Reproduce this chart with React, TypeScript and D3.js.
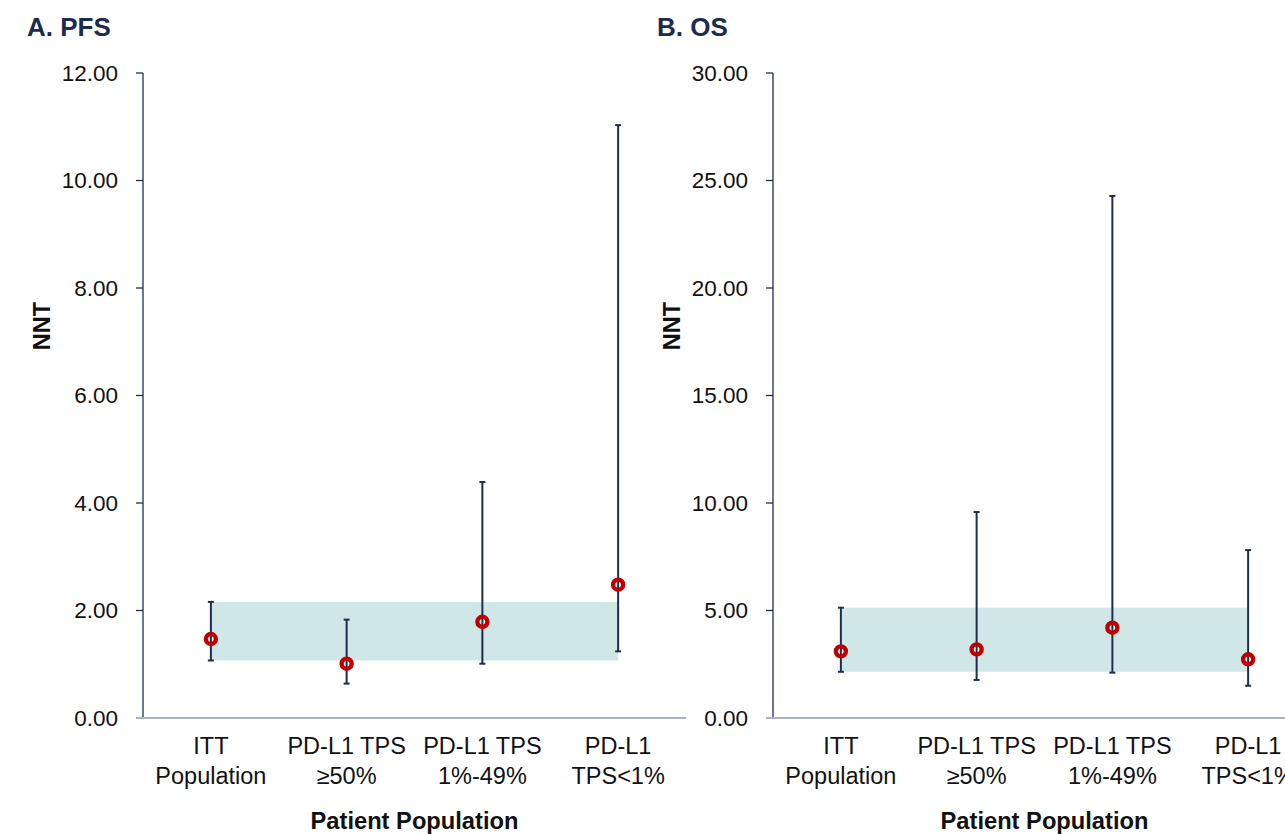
import React from "react";
import * as d3 from "d3";

const categoriesTop = ["ITT", "PD-L1 TPS", "PD-L1 TPS", "PD-L1"];
const categoriesBottom = ["Population", "≥50%", "1%-49%", "TPS<1%"];

const pfsPoint = [1.47, 1.01, 1.79, 2.48];
const pfsLower = [1.07, 0.64, 1.01, 1.24];
const pfsUpper = [2.16, 1.83, 4.39, 11.03];
const pfsTicks = [0, 2, 4, 6, 8, 10, 12];

const osPoint = [3.1, 3.19, 4.2, 2.73];
const osLower = [2.15, 1.77, 2.11, 1.5];
const osUpper = [5.13, 9.58, 24.28, 7.81];
const osTicks = [0, 5, 10, 15, 20, 25, 30];

const navy = "#1f2d4d";
const red = "#c00000";
const band = "#d0e7e8";
const font = "Liberation Sans, Arial, sans-serif";

const width = 1285;
const height = 834;
const top = 73;
const bottom = 718;
const plotWidth = 543;

const Panel = (props) => {
	const { title, axisX, ticks, point, lower, upper } = props;
	const ids = d3.range(point.length).map(String);
	const x = d3.scaleBand().domain(ids).range([axisX, axisX + plotWidth]);
	const y = d3
		.scaleLinear()
		.domain([0, ticks[ticks.length - 1]])
		.range([bottom, top]);
	const cx = (i) => x(String(i)) + x.bandwidth() / 2;
	const line = (a, b) => d3.line()([a, b]);
	const cap = 3;

	return (
		<g>
			<text
				x={axisX - 116}
				y={36}
				fontFamily={font}
				fontWeight="bold"
				fontSize={26}
				fill="#1c2c4c"
			>
				{title}
			</text>
			{/* ITT confidence band */}
			<rect
				x={cx(0)}
				y={y(upper[0])}
				width={cx(point.length - 1) - cx(0)}
				height={y(lower[0]) - y(upper[0])}
				fill={band}
			/>
			{/* y axis */}
			<path d={line([axisX, top], [axisX, bottom])} stroke={navy} strokeWidth={1.3} />
			{ticks.map((t) => (
				<g key={t}>
					<path d={line([axisX - 7, y(t)], [axisX, y(t)])} stroke={t === 0 ? "#a9b3c1" : navy} strokeWidth={1.3} />
					<text
						x={axisX - 25}
						y={y(t)}
						textAnchor="end"
						dominantBaseline="central"
						fontFamily={font}
						fontSize={22.5}
						fill="#111"
					>
						{t.toFixed(2)}
					</text>
				</g>
			))}
			<path d={line([axisX - 7, bottom], [axisX + plotWidth, bottom])} stroke="#a9b3c1" strokeWidth={2} />
			<text
				transform={`translate(${axisX - 101},${326}) rotate(-90)`}
				textAnchor="middle"
				dominantBaseline="central"
				fontFamily={font}
				fontWeight="bold"
				fontSize={23.5}
				fill="#111"
			>
				NNT
			</text>
			{point.map((p, i) => (
				<g key={i}>
					<text x={cx(i)} y={754} textAnchor="middle" fontFamily={font} fontSize={23.5} fill="#111">
						{categoriesTop[i]}
					</text>
					<text x={cx(i)} y={784} textAnchor="middle" fontFamily={font} fontSize={23.5} fill="#111">
						{categoriesBottom[i]}
					</text>
					<circle cx={cx(i)} cy={y(p)} r={3} fill="white" />
					<path d={line([cx(i), y(upper[i])], [cx(i), y(lower[i])])} stroke={navy} strokeWidth={2} />
					<path d={line([cx(i) - cap, y(upper[i])], [cx(i) + cap, y(upper[i])])} stroke={navy} strokeWidth={2} />
					<path d={line([cx(i) - cap, y(lower[i])], [cx(i) + cap, y(lower[i])])} stroke={navy} strokeWidth={2} />
					<circle cx={cx(i)} cy={y(p)} r={5} fill="none" stroke={red} strokeWidth={4.4} />
				</g>
			))}
			<text
				x={axisX + plotWidth / 2}
				y={829}
				textAnchor="middle"
				fontFamily={font}
				fontWeight="bold"
				fontSize={23.7}
				fill="#111"
			>
				Patient Population
			</text>
		</g>
	);
};

const App = () => {
	return (
		<svg
			width={width}
			height={height}
			style={{ position: "absolute", left: 0, top: 0, background: "white" }}
		>
			<Panel title="A. PFS" axisX={143} ticks={pfsTicks} point={pfsPoint} lower={pfsLower} upper={pfsUpper} />
			<Panel title="B. OS" axisX={773} ticks={osTicks} point={osPoint} lower={osLower} upper={osUpper} />
		</svg>
	);
};

export default App;
